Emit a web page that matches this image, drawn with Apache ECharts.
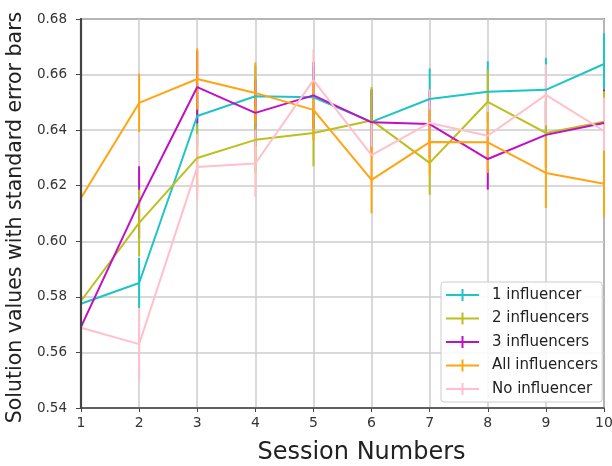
<!DOCTYPE html>
<html>
<head>
<meta charset="utf-8">
<script src="https://cdn.jsdelivr.net/npm/echarts@6/dist/echarts.min.js"></script>
<style>html,body{margin:0;padding:0;background:#fff;}#c{width:612px;height:466px;}</style>
</head>
<body>
<div id="c"></div>
<script>
const sessions = [1, 2, 3, 4, 5, 6, 7, 8, 9, 10];
const yTicks = [0.54, 0.56, 0.58, 0.60, 0.62, 0.64, 0.66, 0.68];
const seriesNames = ['1 influencer', '2 influencers', '3 influencers', 'All influencers', 'No influencer'];
const oneInf   = [0.5775, 0.585, 0.6451, 0.6522, 0.6518, 0.643, 0.6512, 0.6538, 0.6545, 0.6638];
const twoInf   = [0.5785, 0.6066, 0.630, 0.6365, 0.639, 0.6435, 0.6282, 0.6502, 0.639, 0.643];
const threeInf = [0.5692, 0.614, 0.6555, 0.6462, 0.6525, 0.6428, 0.6422, 0.6296, 0.6383, 0.6426];
const allInf   = [0.6156, 0.6498, 0.6584, 0.6534, 0.6473, 0.6221, 0.6357, 0.6356, 0.6246, 0.6207];
const noInf    = [0.5689, 0.563, 0.6267, 0.628, 0.658, 0.631, 0.6426, 0.638, 0.6527, 0.6397];
const errOne   = [0.010, 0.009, 0.011, 0.011, 0.011, 0.011, 0.011, 0.011, 0.0115, 0.011];
const errTwo   = [0.012, 0.012, 0.012, 0.012, 0.012, 0.012, 0.0115, 0.0115, 0.012, 0.011];
const errThree = [0.012, 0.013, 0.013, 0.012, 0.012, 0.012, 0.012, 0.011, 0.012, 0.012];
const errAll   = [0.011, 0.0105, 0.011, 0.011, 0.011, 0.012, 0.0117, 0.011, 0.0126, 0.012];
const errNone  = [0.012, 0.013, 0.012, 0.012, 0.011, 0.012, 0.012, 0.012, 0.011, 0.012];

const colors = ['#1fc4c4', '#bcbf1e', '#bf10c4', '#ffa514', '#ffc0cb'];
const values = [oneInf, twoInf, threeInf, allInf, noInf];
const errs = [errOne, errTwo, errThree, errAll, errNone];
// error bar stacking order (bottom -> top): cyan, magenta, yellow, pink, orange
const barZ = [1, 3, 2, 5, 4];
const lineZ = [10, 11, 12, 13, 14];
const FONT = 'DejaVu Sans';

const series = [];
values.forEach((vals, i) => {
  series.push({
    name: '_err' + i,
    type: 'custom',
    z: barZ[i],
    clip: false,
    encode: { x: 0, y: 1 },
    data: sessions.map((s, k) => [s, vals[k], errs[i][k]]),
    renderItem: function (params, api) {
      const x = api.value(0), y = api.value(1), e = api.value(2);
      const p1 = api.coord([x, y - e]);
      const p2 = api.coord([x, y + e]);
      return {
        type: 'line',
        shape: { x1: p1[0], y1: p1[1], x2: p2[0], y2: p2[1] },
        style: { stroke: colors[i], lineWidth: 2 }
      };
    }
  });
});
values.forEach((vals, i) => {
  series.push({
    name: seriesNames[i],
    type: 'line',
    z: lineZ[i],
    showSymbol: false,
    symbol: 'none',
    itemStyle: { color: colors[i] },
    lineStyle: { color: colors[i], width: 2 },
    data: sessions.map((s, k) => [s, vals[k]])
  });
});

const chart = echarts.init(document.getElementById('c'));
chart.setOption({
  animation: false,
  backgroundColor: '#fff',
  grid: { left: 81, right: 8, top: 19, bottom: 58, containLabel: false, outerBoundsMode: 'none', show: true, borderColor: '#444', borderWidth: 1.5, backgroundColor: 'transparent' },
  xAxis: {
    type: 'value', min: 1, max: 10, interval: 1,
    name: 'Session Numbers', nameLocation: 'middle', nameGap: 33,
    nameTextStyle: { fontFamily: FONT, fontSize: 24, color: '#222', padding: [0, 0, 0, 38] },
    axisLine: { show: true, lineStyle: { color: '#444', width: 1.5 } },
    axisTick: { show: true, length: 4, lineStyle: { color: '#444' } },
    axisLabel: { margin: 8, fontFamily: FONT, fontSize: 14, color: '#333' },
    splitLine: { show: true, lineStyle: { color: '#cccccc', width: 1.5 } }
  },
  yAxis: [{
    type: 'value', min: yTicks[0], max: yTicks[yTicks.length - 1], interval: 0.02,
    position: 'left',
    name: 'Solution values with standard error bars', nameLocation: 'middle', nameGap: 48,
    nameTextStyle: { fontFamily: FONT, fontSize: 20.5, color: '#222', padding: [0, 8, 0, 0] },
    axisLine: { show: true, lineStyle: { color: '#444', width: 1.5 } },
    axisTick: { show: true, length: 5, lineStyle: { color: '#444' } },
    axisLabel: { margin: 14, fontFamily: FONT, fontSize: 13.5, color: '#333', formatter: v => v.toFixed(2) },
    splitLine: { show: true, lineStyle: { color: '#cccccc', width: 1.5 } }
  }, {
    type: 'value', min: yTicks[0], max: yTicks[yTicks.length - 1], interval: 0.02,
    position: 'left', offset: 0, z: 30,
    axisLine: { show: true, lineStyle: { color: '#444', width: 2.2 } },
    axisTick: { show: false }, axisLabel: { show: false }, splitLine: { show: false }
  }],
  legend: {
    orient: 'vertical', left: 441, top: 282,
    padding: [5.5, 4, 5.5, 5],
    itemGap: 8.5, itemWidth: 33, itemHeight: 12,
    backgroundColor: 'rgba(255,255,255,0.85)', borderColor: '#cccccc', borderWidth: 1, borderRadius: 3,
    data: seriesNames.map(n => ({ name: n, icon: 'path://M0,5h33v2H0z M15.5,0h2v12h-2z' })),
    textStyle: { fontFamily: FONT, fontSize: 15, color: '#222', lineHeight: 15, padding: [0, 0, 0, 8] }
  },
  series: series
});
</script>
</body>
</html>
